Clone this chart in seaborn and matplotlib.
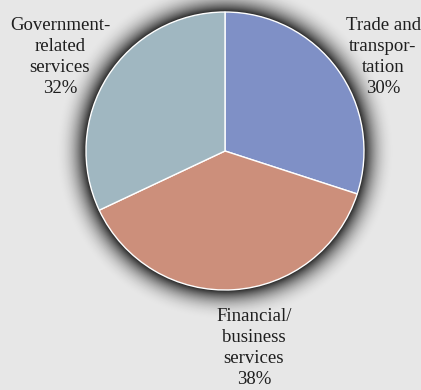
import numpy as np
import seaborn as sns
from matplotlib import pyplot as plt

sns.set_theme(style="white")
plt.rcParams["font.family"] = ["Liberation Serif", "DejaVu Serif"]

# data
labels = ["Trade and\ntranspor-\ntation", "Financial/\nbusiness\nservices", "Government-\nrelated\nservices"]
shares = [30, 38, 32]
colors = ["#7f90c6", "#cc8f7b", "#a0b7c1"]

W, H = 421, 390
bg = "#e7e7e7"
cx, cy, R = 225, 390 - 151, 139

fig = plt.figure(figsize=(W / 100, H / 100), dpi=100, facecolor=bg)
ax = fig.add_axes([0, 0, 1, 1])
ax.set_facecolor(bg)

# soft dark glow around the pie
yy, xx = np.mgrid[0:H, 0:W]
dist = np.hypot(xx + 0.5 - cx, (H - yy - 0.5) - cy) - R
a = np.clip(1 - dist / 32, 0, 1) ** 2.4 * 0.85
a[dist < -2] = 0
glow = np.zeros((H, W, 4))
glow[..., 3] = a
ax.imshow(glow, extent=(0, W, 0, H), origin="upper", zorder=1, interpolation="bilinear")

ax.pie(shares, colors=colors, startangle=90, counterclock=False, center=(cx, cy), radius=R,
       wedgeprops=dict(edgecolor="white", linewidth=1.0, zorder=2), frame=True)
ax.set_xlim(0, W)
ax.set_ylim(0, H)
ax.set_aspect("equal")
ax.axis("off")

txt = dict(ha="center", va="top", fontsize=13.5, color="#1e1e1e", linespacing=1.31, zorder=3)
ax.text(383, H - 17, f"{labels[0]}\n{shares[0]}%", **txt)
ax.text(254, H - 308, f"{labels[1]}\n{shares[1]}%", **txt)
ax.text(60, H - 17, f"{labels[2]}\n{shares[2]}%", **txt)

fig.savefig("out.png", dpi=100, facecolor=bg)
